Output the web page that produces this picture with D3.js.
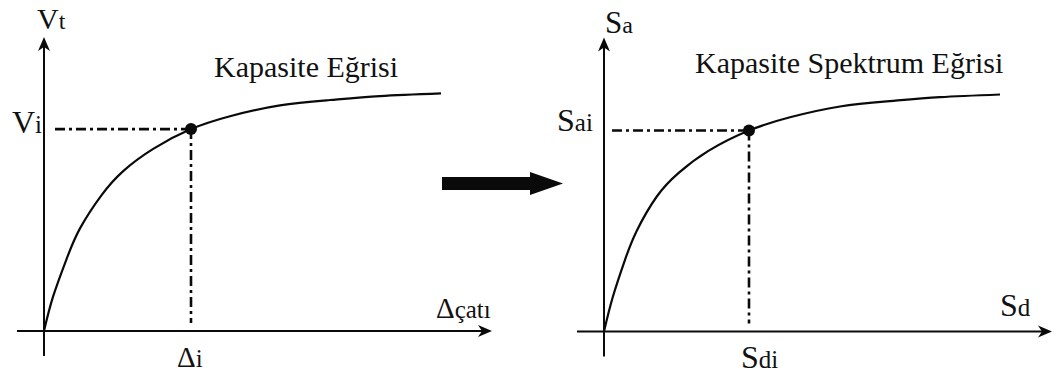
<!DOCTYPE html>
<html>
<head>
<meta charset="utf-8">
<script src="https://cdn.jsdelivr.net/npm/d3@7"></script>
<style>
  html, body { margin: 0; padding: 0; background: #fff; }
  svg { display: block; }
</style>
</head>
<body>
<svg id="chart" width="1056" height="376"></svg>
<script>
// Capacity curve (base shear vs roof displacement), arbitrary units
const capacityX = [0, 2.3, 5.7, 9, 14.4, 19.8, 27.3, 36.75, 46.5, 59, 71.5, 84, 99.25];
const capacityY = [0, 11.6, 24.2, 34.2, 45.3, 53.3, 60.7, 67.3, 71.6, 75.2, 77.0, 78.3, 79.2];
// Capacity spectrum curve (spectral acceleration vs spectral displacement)
const spectrumX = [0, 2.2, 5.25, 8.2, 13.2, 18.6, 26.1, 36.25, 46.5, 59, 71.5, 84, 99];
const spectrumY = [0, 11.5, 23.9, 33.6, 45.0, 52.8, 60.2, 67, 71.4, 75.0, 76.8, 78.1, 79.0];
// Marked performance points
const capacityPoint = [36.75, 67.3];
const spectrumPoint = [36.25, 67];
// Axis and point labels: [main, subscript]
const leftLabels = { y: ["V", "t"], x: ["Δ", "çatı"], py: ["V", "i"], px: ["Δ", "i"], title: "Kapasite Eğrisi" };
const rightLabels = { y: ["S", "a"], x: ["S", "d"], py: ["S", "ai"], px: ["S", "di"], title: "Kapasite Spektrum Eğrisi" };

const svg = d3.select("#chart");
const ink = "#0a0a0a";
const serif = "'Liberation Serif', 'Times New Roman', Times, 'DejaVu Serif', serif";

function arrowHead(g, x, y, angle) {
  g.append("path")
    .attr("d", "M0,0 L-14,-6 L-10,0 L-14,6 Z")
    .attr("transform", `translate(${x},${y}) rotate(${angle})`)
    .attr("fill", ink);
}

function panel(cfg) {
  const x = d3.scaleLinear().domain([0, 112]).range([cfg.x0, cfg.x0 + 448]);
  const y = d3.scaleLinear().domain([0, 98]).range([cfg.y0, cfg.y0 - 294]);
  const g = svg.append("g").attr("font-family", serif).attr("fill", "#111");

  // axes
  g.append("line").attr("x1", x(0) - 27).attr("x2", x(112) - 4)
    .attr("y1", y(0)).attr("y2", y(0)).attr("stroke", ink).attr("stroke-width", 2);
  arrowHead(g, x(112), y(0), 0);
  g.append("line").attr("x1", x(0)).attr("x2", x(0))
    .attr("y1", y(0) + 25).attr("y2", y(98) + 4).attr("stroke", ink).attr("stroke-width", 2);
  arrowHead(g, x(0), y(98), -90);

  // dash-dot guides to the point
  const [px, py] = cfg.point;
  const dash = "10,4,3,4";
  g.append("line").attr("x1", x(0) + cfg.guideStart).attr("x2", x(px))
    .attr("y1", y(py)).attr("y2", y(py))
    .attr("stroke", ink).attr("stroke-width", 2.6).attr("stroke-dasharray", dash);
  g.append("line").attr("x1", x(px)).attr("x2", x(px))
    .attr("y1", y(py)).attr("y2", y(0) - 8)
    .attr("stroke", ink).attr("stroke-width", 2.6).attr("stroke-dasharray", dash);

  // curve
  const pts = cfg.xs.map((v, i) => [v, cfg.ys[i]]);
  const line = d3.line().x(d => x(d[0])).y(d => y(d[1])).curve(d3.curveNatural);
  g.append("path").attr("d", line(pts)).attr("fill", "none")
    .attr("stroke", ink).attr("stroke-width", 2.2);

  g.append("circle").attr("cx", x(px)).attr("cy", y(py)).attr("r", 6).attr("fill", ink);

  const L = cfg.labels;
  function label(tx, ty, parts, bigSize, smallSize) {
    const t = g.append("text").attr("x", tx).attr("y", ty);
    t.append("tspan").attr("font-size", bigSize).text(parts[0]);
    t.append("tspan").attr("font-size", smallSize).text(parts[1]);
  }
  const p = cfg.pos;
  label(x(0) + p.y[0], y(98) + p.y[1], L.y, p.y[2], 24);
  label(x(0) + p.py[0], y(py) + p.py[1], L.py, 32, 25);
  label(x(px) + p.px[0], y(0) + 36, L.px, p.px[2], 25);
  label(x(112) + p.x[0], y(0) + p.x[1], L.x, p.x[2], 25);

  g.append("text").attr("x", cfg.titleX).attr("y", cfg.titleY)
    .attr("font-size", 30).text(L.title);
}

panel({ x0: 44, y0: 331, xs: capacityX, ys: capacityY, point: capacityPoint, labels: leftLabels,
  guideStart: 11,
  pos: { y: [-7, -8, 30], py: [-32, 4], px: [-14, 0, 29], x: [-56, -13, 29] },
  titleX: 214, titleY: 77 });
panel({ x0: 604, y0: 331.5, xs: spectrumX, ys: spectrumY, point: spectrumPoint, labels: rightLabels,
  guideStart: 8,
  pos: { y: [1, -5, 31], py: [-47, 0], px: [-8, 0, 32], x: [-52, -16, 32] },
  titleX: 695, titleY: 73 });

// transition arrow between the two diagrams
const arrowShape = [[442, 177], [530, 177], [530, 172], [563, 183.5], [530, 195], [530, 190], [442, 190]];
svg.append("path").attr("d", d3.line()(arrowShape) + "Z").attr("fill", ink);
</script>
</body>
</html>
